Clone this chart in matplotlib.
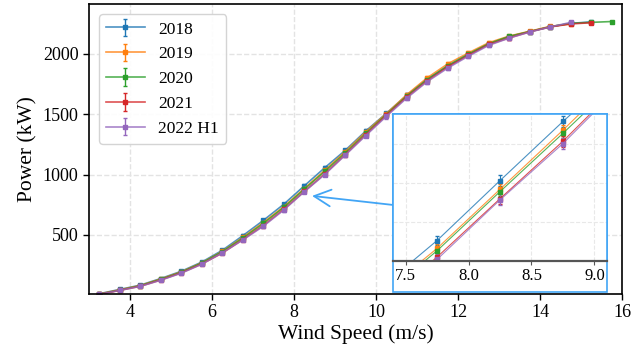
import matplotlib
matplotlib.use('Agg')
import matplotlib.pyplot as plt
from matplotlib.colors import to_rgba
from matplotlib.patches import Rectangle

plt.rcParams['font.family'] = ['Liberation Serif', 'DejaVu Serif']
plt.rcParams['mathtext.fontset'] = 'stix'

# wind speed bins (m/s)
wind = [3.25, 3.75, 4.25, 4.75, 5.25, 5.75, 6.25, 6.75, 7.25, 7.75, 8.25, 8.75, 9.25,
        9.75, 10.25, 10.75, 11.25, 11.75, 12.25, 12.75, 13.25, 13.75, 14.25, 14.75, 15.25, 15.75]

labels = ['2018', '2019', '2020', '2021', '2022 H1']

p2018 = [14, 50, 85, 140, 200, 276, 373, 494, 620, 754, 906, 1056, 1200, 1360, 1505, 1655,
         1790, 1895, 1990, 2080, 2140, 2182, 2222, 2250, 2262]
p2019 = [12, 47, 82, 136, 195, 270, 364, 480, 603, 734, 884, 1034, 1190, 1352, 1503, 1660,
         1800, 1915, 2005, 2090, 2145, 2185, 2225, 2245]
p2020 = [10, 44, 80, 133, 192, 268, 362, 474, 595, 728, 878, 1026, 1178, 1340, 1495, 1648,
         1785, 1900, 1995, 2082, 2142, 2182, 2222, 2250, 2258, 2265]
p2021 = [8, 42, 76, 128, 187, 260, 350, 462, 578, 712, 860, 1006, 1165, 1330, 1488, 1640,
         1775, 1890, 1985, 2075, 2130, 2180, 2220, 2245, 2255]
p2022 = [9, 42, 75, 126, 184, 258, 352, 458, 572, 706, 857, 1000, 1160, 1322, 1480, 1632,
         1768, 1880, 1978, 2068, 2128, 2178, 2220, 2258]

e2018 = [3, 4, 5, 6, 7, 8, 9, 10, 11, 11, 13, 13, 14, 15, 15, 16, 16, 15, 14, 13, 12, 10, 9, 8, 7]
e2019 = [3, 4, 5, 6, 7, 8, 9, 10, 11, 12, 13, 14, 15, 15, 16, 16, 16, 15, 14, 13, 12, 10, 9, 8]
e2020 = [3, 4, 5, 6, 7, 8, 9, 10, 10, 11, 12, 13, 14, 15, 15, 16, 16, 15, 14, 13, 12, 10, 9, 8, 7, 6]
e2021 = [3, 4, 5, 6, 7, 8, 9, 10, 11, 12, 13, 14, 15, 16, 16, 17, 17, 16, 16, 15, 18, 12, 10, 9, 8]
e2022 = [4, 5, 6, 7, 8, 9, 10, 11, 12, 13, 14, 15, 16, 16, 17, 17, 17, 16, 15, 14, 13, 11, 10, 9]

powers = [p2018, p2019, p2020, p2021, p2022]
errors = [e2018, e2019, e2020, e2021, e2022]
colors = ['#1f77b4', '#ff7f0e', '#2ca02c', '#d62728', '#9467bd']
frame_blue = '#42A5F5'

fig = plt.figure(figsize=(6.39, 3.56), dpi=100)
ax = fig.add_axes([0.1393, 0.1742, 0.8341, 0.8146])

for lab, p, e, c in zip(labels, powers, errors, colors):
    ax.errorbar(wind[:len(p)], p, yerr=e, fmt='-s', color=to_rgba(c, 0.8), mfc=c, mec=c,
                ecolor=c, lw=1.2, ms=3.5, elinewidth=1, capsize=1.5, label=lab)

ax.set_xlim(3, 16)
ax.set_ylim(12, 2410)
ax.set_xticks([4, 6, 8, 10, 12, 14, 16])
ax.set_yticks([500, 1000, 1500, 2000])
ax.tick_params(labelsize=13, length=4, width=1)
for s in ax.spines.values():
    s.set_linewidth(1.2)
ax.grid(True, ls='--', color='#e3e3e3', lw=1)
ax.set_axisbelow(True)
ax.set_xlabel('Wind Speed (m/s)', fontsize=15.5, labelpad=2)
ax.set_ylabel('Power (kW)', fontsize=15.5, labelpad=4)
ax.legend(loc='upper left', fontsize=12.5, handlelength=2.2, framealpha=0.9,
          edgecolor='#d0d0d0', borderaxespad=0.6)

# arrow from inset to zoom region
ax.annotate('', xy=(8.44, 823), xytext=(10.42, 748),
            arrowprops=dict(arrowstyle='->', color=frame_blue, lw=1.3, mutation_scale=30,
                            shrinkA=0, shrinkB=0))

# frame round the inset, tick labels included
ax.add_patch(Rectangle((393 / 639, 1 - 292 / 356), 214 / 639, 178 / 356,
                       transform=fig.transFigure, facecolor='white', edgecolor=frame_blue,
                       lw=1.2, clip_on=False, zorder=5))

ins = fig.add_axes([393 / 639, 1 - 261 / 356, 214 / 639, 147 / 356])
ins.set_zorder(2)
for lab, p, e, c in zip(labels, powers, errors, colors):
    ins.errorbar(wind[:len(p)], p, yerr=e, fmt='-s', color=to_rgba(c, 0.8), mfc=c, mec=c,
                 ecolor=c, lw=0.8, ms=2.5, elinewidth=0.8, capsize=1.5)
ins.set_xlim(7.4, 9.1)
ins.set_ylim(702, 1075)
ins.set_xticks([7.5, 8.0, 8.5, 9.0])
ins.set_xticklabels(['7.5', '8.0', '8.5', '9.0'])
ins.set_yticks([800, 900, 1000])
ins.tick_params(axis='y', length=0, labelleft=False)
ins.tick_params(axis='x', labelsize=12, length=3, pad=2, color='#555555')
ins.grid(True, ls='--', color='#e8e8e8', lw=0.8)
for side in ['left', 'top', 'right']:
    ins.spines[side].set_color(frame_blue)
    ins.spines[side].set_linewidth(1.2)
ins.spines['bottom'].set_color('#555555')
ins.spines['bottom'].set_linewidth(1.6)

fig.savefig('out.png', dpi=100)
